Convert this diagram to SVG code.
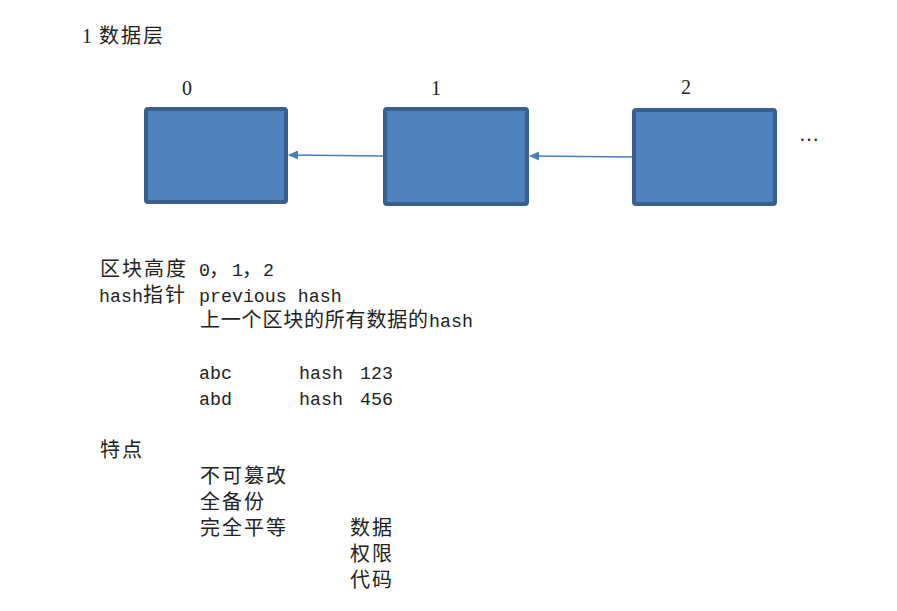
<svg xmlns="http://www.w3.org/2000/svg" width="897" height="611" viewBox="0 0 897 611">
<defs>
<style>
.zh{font-family:"Noto Sans CJK SC","Noto Sans",sans-serif;font-size:20px;fill:#222;letter-spacing:2px}
.mono{font-family:"Liberation Mono","DejaVu Sans Mono",monospace;font-size:18.3px;fill:#222}
.num{font-family:"Liberation Serif","DejaVu Serif",serif;font-size:20px;fill:#222}
.blk{fill:#4f81bd;stroke:#3a5f8e;stroke-width:4}
.conn{stroke:#4a7ebb;stroke-width:1.4;fill:none}
</style>
<marker id="ah" markerWidth="10" markerHeight="10" refX="9" refY="5" orient="auto" markerUnits="userSpaceOnUse">
<path d="M0,0.5 L10,5 L0,9.5 Z" fill="#4a7ebb"/>
</marker>
</defs>
<rect width="897" height="611" fill="#fff"/>
<text x="82" y="43"><tspan class="num" x="82">1</tspan><tspan class="zh" x="99">数据层</tspan></text>
<g id="node0">
<text class="num" x="187" y="95" text-anchor="middle">0</text>
<rect class="blk" x="146" y="109" width="140" height="93" rx="2"/>
</g>
<g id="node1">
<text class="num" x="436" y="95" text-anchor="middle">1</text>
<rect class="blk" x="385" y="109" width="142" height="95" rx="2"/>
</g>
<g id="node2">
<text class="num" x="686" y="94" text-anchor="middle">2</text>
<rect class="blk" x="634" y="110" width="141" height="94" rx="2"/>
</g>
<text class="num" x="799" y="141">…</text>
<g id="connectors">
<line class="conn" x1="383" y1="156" x2="289" y2="155" marker-end="url(#ah)"/>
<line class="conn" x1="632" y1="157" x2="530" y2="156" marker-end="url(#ah)"/>
</g>
<g id="notes">
<text class="zh" x="100" y="276">区块高度</text>
<text class="mono" x="199" y="276">0</text>
<text class="zh" x="209" y="276">，</text>
<text class="mono" x="232" y="276">1</text>
<text class="zh" x="242" y="276">，</text>
<text class="mono" x="263" y="276">2</text>
<text class="mono" x="99" y="302">hash</text>
<text class="zh" x="143" y="302">指针</text>
<text class="mono" x="199" y="302">previous hash</text>
<text class="zh" x="200" y="327" style="letter-spacing:0" textLength="228" lengthAdjust="spacing">上一个区块的所有数据的</text>
<text class="mono" x="429" y="327">hash</text>
<text class="mono" x="199" y="379">abc</text>
<text class="mono" x="299" y="379">hash</text>
<text class="mono" x="360" y="379">123</text>
<text class="mono" x="199" y="405">abd</text>
<text class="mono" x="299" y="405">hash</text>
<text class="mono" x="360" y="405">456</text>
<text class="zh" x="100" y="457">特点</text>
<text class="zh" x="200" y="483">不可篡改</text>
<text class="zh" x="200" y="509">全备份</text>
<text class="zh" x="200" y="535">完全平等</text>
<text class="zh" x="350" y="535">数据</text>
<text class="zh" x="350" y="561">权限</text>
<text class="zh" x="350" y="587">代码</text>
</g>
</svg>
